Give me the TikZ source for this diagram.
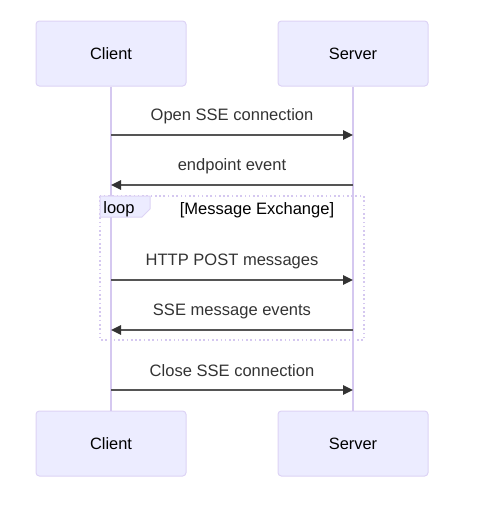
\documentclass[tikz,border=0pt]{standalone}
\usepackage{fontspec}
\setmainfont{Liberation Sans}
\usetikzlibrary{arrows.meta}
\definecolor{actfill}{HTML}{ECECFF}
\definecolor{actdraw}{HTML}{DDD3F5}
\definecolor{lifeline}{HTML}{D5C8F0}
\definecolor{msgline}{HTML}{555555}
\definecolor{tipcol}{HTML}{333333}
\definecolor{txt}{HTML}{333333}
\tikzset{
  actor/.style={draw=actdraw, fill=actfill, rounded corners=2.5pt, minimum width=112.5pt, minimum height=48.75pt, inner sep=0pt, font=\fontsize{12.3}{14}\selectfont, text=black, line width=0.75pt},
  life/.style={draw=lifeline, line width=1.1pt},
  msg/.style={draw=msgline, line width=1.4pt, -{Triangle[length=7.5pt,width=7pt,color=tipcol]}},
  msgtext/.style={font=\fontsize{12.4}{14}\selectfont, text=txt},
  loopbox/.style={draw=lifeline, line width=1.2pt, dash pattern=on 1.2pt off 2pt},
}
\begin{document}
\begin{tikzpicture}[x=0.75pt,y=-0.75pt]
\useasboundingbox (0,0) rectangle (480,512);
\node[actor] (ct) at (111,53.5) {Client};
\node[actor] (st) at (353,53.5) {Server};
\node[actor] (cb) at (111,443.5) {Client};
\node[actor] (sb) at (353,443.5) {Server};
\draw[life] (ct.south) -- (cb.north);
\draw[life] (st.south) -- (sb.north);
% loop frame
\draw[loopbox] (100,196) rectangle (364,340);
\filldraw[draw=actdraw, fill=actfill, line width=0.75pt] (100,196) -- (150,196) -- (150,209) -- (142,217) -- (100,217) -- cycle;
\node[msgtext, text=black] (lp) at (119,209) {loop};
\node[msgtext, text=black] (lt) at (257,210) {[Message Exchange]};
% messages
\coordinate (c1) at (111,135); \coordinate (s1) at (353,135);
\coordinate (c2) at (111,185); \coordinate (s2) at (353,185);
\coordinate (c3) at (111,280); \coordinate (s3) at (353,280);
\coordinate (c4) at (111,330); \coordinate (s4) at (353,330);
\coordinate (c5) at (111,390); \coordinate (s5) at (353,390);
\draw[msg] (c1) -- (s1);
\node[msgtext] (m1) at (232,116) {Open SSE connection};
\draw[msg] (s2) -- (c2);
\node[msgtext] (m2) at (232,166) {endpoint event};
\draw[msg] (c3) -- (s3);
\node[msgtext] (m3) at (232,261) {HTTP POST messages};
\draw[msg] (s4) -- (c4);
\node[msgtext] (m4) at (232,311) {SSE message events};
\draw[msg] (c5) -- (s5);
\node[msgtext] (m5) at (232,371) {Close SSE connection};
\end{tikzpicture}
\end{document}
